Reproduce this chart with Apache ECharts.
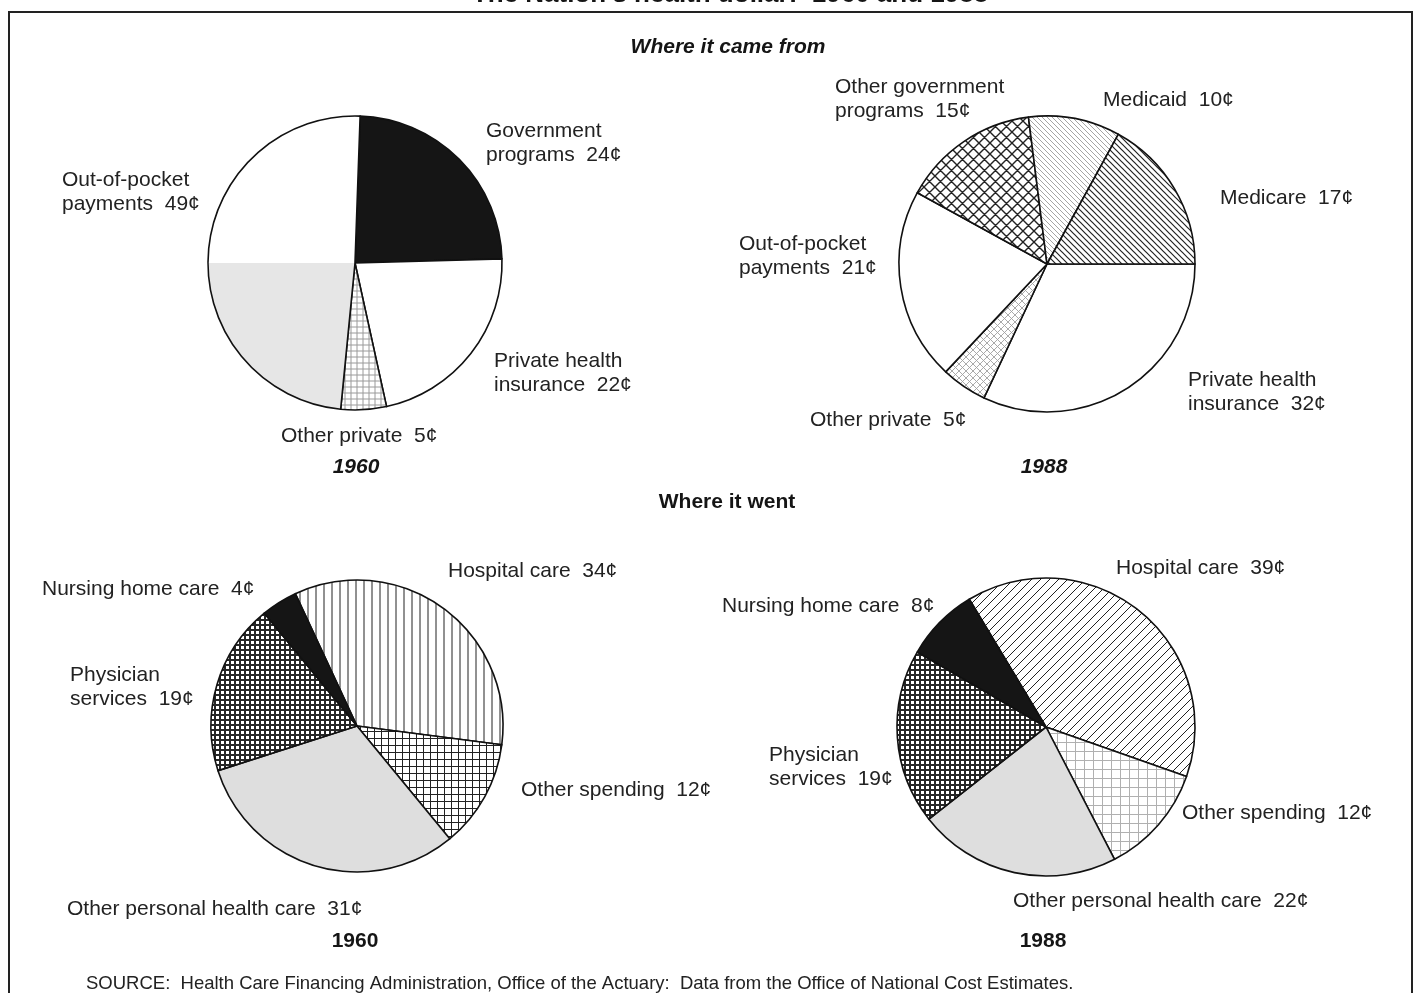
<!DOCTYPE html>
<html>
<head>
<meta charset="utf-8">
<title>The Nation's health dollar: 1960 and 1988</title>
<script src="https://cdn.jsdelivr.net/npm/echarts@6/dist/echarts.min.js"></script>
<style>
  html, body { margin: 0; padding: 0; background: #fff; }
  #main { width: 1418px; height: 993px; }
</style>
</head>
<body>
<div id="main"></div>
<script>
// ---- data (cents per health dollar) ----
var cameNames1960 = ['Government\nprograms', 'Private health\ninsurance', 'Other private', 'Out-of-pocket\npayments'];
var cameValues1960 = [24, 22, 5, 49];

var cameNames1988 = ['Private health\ninsurance', 'Other private', 'Out-of-pocket\npayments', 'Other government\nprograms', 'Medicaid', 'Medicare'];
var cameValues1988 = [32, 5, 21, 15, 10, 17];

var wentNames = ['Hospital care', 'Other spending', 'Other personal health care', 'Physician\nservices', 'Nursing home care'];
var wentValues1960 = [34, 12, 31, 19, 4];
var wentValues1988 = [39, 12, 22, 19, 8];

var years = ['1960', '1988'];

// ---- fill patterns ----
function tile(size, bg, draw) {
    var c = document.createElement('canvas');
    c.width = size; c.height = size;
    var ctx = c.getContext('2d');
    ctx.fillStyle = bg;
    ctx.fillRect(0, 0, size, size);
    draw(ctx, size);
    return { image: c, repeat: 'repeat' };
}
function lines(dir, color, w) {
    return function (ctx, s) {
        ctx.strokeStyle = color;
        ctx.lineWidth = w;
        ctx.beginPath();
        if (dir === 'v') { ctx.moveTo(s / 2, 0); ctx.lineTo(s / 2, s); }
        if (dir === 'h') { ctx.moveTo(0, s / 2); ctx.lineTo(s, s / 2); }
        if (dir === '/' || dir === 'x') {
            ctx.moveTo(-1, s + 1); ctx.lineTo(s + 1, -1);
            ctx.moveTo(-s - 1, s + 1); ctx.lineTo(1, -1);
            ctx.moveTo(s - 1, s + 1); ctx.lineTo(2 * s + 1, -1);
        }
        if (dir === '\\' || dir === 'x') {
            ctx.moveTo(-1, -1); ctx.lineTo(s + 1, s + 1);
            ctx.moveTo(-s - 1, -1); ctx.lineTo(1, s + 1);
            ctx.moveTo(s - 1, -1); ctx.lineTo(2 * s + 1, s + 1);
        }
        ctx.stroke();
    };
}
function grid(color, w) {
    return function (ctx, s) {
        lines('v', color, w)(ctx, s);
        lines('h', color, w)(ctx, s);
    };
}

var BLACK = '#151515';
var WHITE = '#ffffff';
var STIPPLE = '#dedede';
var halfGray = new echarts.graphic.LinearGradient(0, 0, 0, 1, [
    { offset: 0, color: '#ffffff' }, { offset: 0.5, color: '#ffffff' },
    { offset: 0.5, color: '#e6e6e6' }, { offset: 1, color: '#e6e6e6' }
]);
var finePlaid = tile(6, WHITE, grid('#9a9a9a', 1));
var diagCross = tile(11, WHITE, lines('x', '#222', 1.4));
var lightDiag = tile(5, WHITE, lines('\\', '#9a9a9a', 0.9));
var darkDiag = tile(6, WHITE, lines('\\', '#222', 1.2));
var lightCross = tile(7, WHITE, lines('x', '#a0a0a0', 0.9));
var vertLines = tile(8, WHITE, lines('v', '#222', 1));
var squareGrid = tile(7, WHITE, grid('#222', 1));
var denseGrid = tile(5, '#262626', function (ctx) { ctx.fillStyle = '#fff'; ctx.fillRect(1, 1, 3, 3); });
var slashLines = tile(9, WHITE, lines('/', '#222', 1));
var lightGrid = tile(9, WHITE, grid('#b0b0b0', 1));

var fills1960a = [BLACK, WHITE, finePlaid, halfGray];
var fills1988a = [WHITE, lightCross, WHITE, diagCross, lightDiag, darkDiag];
var fills1960b = [vertLines, squareGrid, STIPPLE, denseGrid, BLACK];
var fills1988b = [slashLines, lightGrid, STIPPLE, denseGrid, BLACK];

// ---- layout ----
var FONT = '"Liberation Sans", Arial, Helvetica, sans-serif';

function pie(center, r, startAngle, names, values, fills) {
    return {
        type: 'pie',
        center: center,
        radius: [0, r],
        startAngle: startAngle,
        clockwise: true,
        silent: true,
        animation: false,
        label: { show: false },
        labelLine: { show: false },
        emphasis: { disabled: true },
        data: names.map(function (n, i) {
            return {
                name: n, value: values[i],
                itemStyle: { color: fills[i], borderColor: '#111', borderWidth: 1.6 }
            };
        })
    };
}

// first-line centre of each label
var pos1960a = [[486, 131], [494, 361], [281, 436], [62, 180]];
var pos1988a = [[1188, 380], [810, 420], [739, 244], [835, 87], [1103, 100], [1220, 198]];
var pos1960b = [[448, 571], [521, 790], [67, 909], [70, 675], [42, 589]];
var pos1988b = [[1116, 568], [1182, 813], [1013, 901], [769, 755], [722, 606]];

var graphics = [];
function addLabels(names, values, pos) {
    names.forEach(function (n, i) {
        graphics.push({
            type: 'text', silent: true,
            x: pos[i][0], y: pos[i][1] - 12,
            style: {
                text: n + '  ' + values[i] + '\u00a2',
                font: '21px ' + FONT, fill: '#222',
                lineHeight: 24, verticalAlign: 'top', align: 'left'
            }
        });
    });
}
addLabels(cameNames1960, cameValues1960, pos1960a);
addLabels(cameNames1988, cameValues1988, pos1988a);
addLabels(wentNames, wentValues1960, pos1960b);
addLabels(wentNames, wentValues1988, pos1988b);

function centerText(text, x, y, font) {
    graphics.push({
        type: 'text', silent: true, x: x, y: y,
        style: { text: text, font: font, fill: '#151515', align: 'center', verticalAlign: 'middle' }
    });
}
centerText("The Nation's health dollar:  1960 and 1988", 730, -5, 'bold 26px ' + FONT);
centerText('Where it came from', 728, 47, 'italic bold 21px ' + FONT);
centerText('Where it went', 727, 502, 'bold 21px ' + FONT);
centerText(years[0], 356, 467, 'italic bold 21px ' + FONT);
centerText(years[1], 1044, 467, 'italic bold 21px ' + FONT);
centerText(years[0], 355, 941, 'bold 21px ' + FONT);
centerText(years[1], 1043, 941, 'bold 21px ' + FONT);

graphics.push({
    type: 'text', silent: true, x: 86, y: 984,
    style: {
        text: 'SOURCE:  Health Care Financing Administration, Office of the Actuary:  Data from the Office of National Cost Estimates.',
        font: '18.5px ' + FONT, fill: '#222', verticalAlign: 'middle'
    }
});
graphics.push({
    type: 'rect', silent: true,
    shape: { x: 9, y: 12, width: 1403, height: 1000 },
    style: { fill: null, stroke: '#222', lineWidth: 2 }
});

var chart = echarts.init(document.getElementById('main'), null, { renderer: 'canvas' });
chart.setOption({
    backgroundColor: '#ffffff',
    animation: false,
    series: [
        pie([355, 263], 147, 88, cameNames1960, cameValues1960, fills1960a),
        pie([1047, 264], 148, 0, cameNames1988, cameValues1988, fills1988a),
        pie([357, 726], 146, 115, wentNames, wentValues1960, fills1960b),
        pie([1046, 727], 149, 121, wentNames, wentValues1988, fills1988b)
    ],
    graphic: graphics
});
window.addEventListener('resize', function () { chart.resize(); });
</script>
</body>
</html>
